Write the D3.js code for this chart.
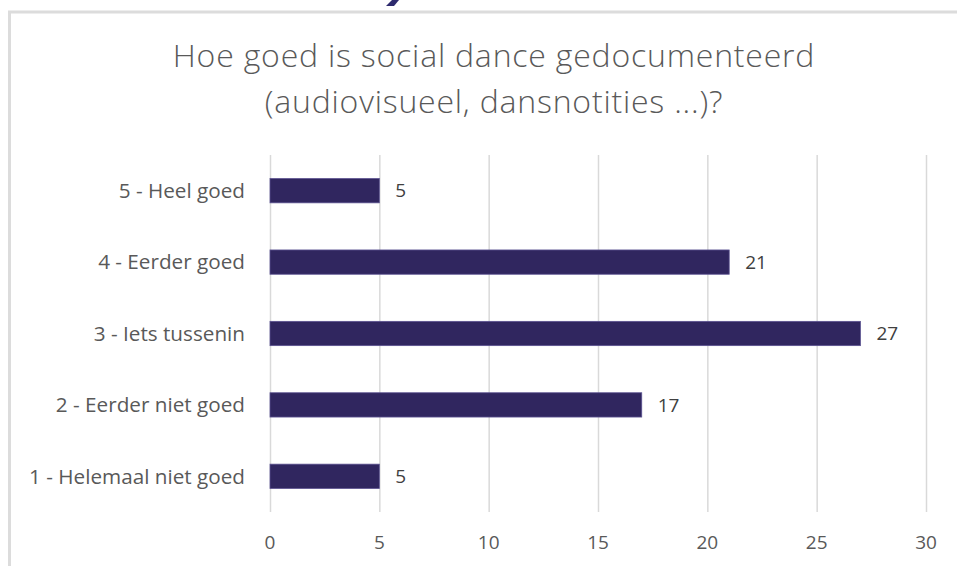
<!DOCTYPE html>
<html>
<head>
<meta charset="utf-8">
<script src="https://cdn.jsdelivr.net/npm/d3@7"></script>
<style>
  html, body { margin: 0; padding: 0; background: #fff; }
  svg { display: block; }
  .title { font-family: "Open Sans", sans-serif; font-weight: 300; fill: #595959; letter-spacing: 0.8px; }
  .cat-label, .tick-label { font-family: "Open Sans", sans-serif; fill: #595959; }
  .value-label { font-family: "Open Sans", sans-serif; fill: #404040; }
</style>
</head>
<body>
<div id="chart"></div>
<script>
// data
const categories = ['5 - Heel goed', '4 - Eerder goed', '3 - Iets tussenin', '2 - Eerder niet goed', '1 - Helemaal niet goed'];
const counts = [5, 21, 27, 17, 5];
const xTicks = [0, 5, 10, 15, 20, 25, 30];
const titleLines = ['Hoe goed is social dance gedocumenteerd', '(audiovisueel, dansnotities ...)?'];

const width = 957, height = 566;
const margin = {top: 155, right: 31, bottom: 54, left: 270};

const svg = d3.select('#chart').append('svg')
    .attr('width', width)
    .attr('height', height);

// bit of the page heading above, cut off by the crop
svg.append('path')
    .attr('d', 'M392,0 L399,0 L394,6 L386,6 Z')
    .attr('fill', '#2e2a6e');

// chart frame, runs off the right and bottom
svg.append('rect')
    .attr('x', 9.5)
    .attr('y', 12)
    .attr('width', width + 20)
    .attr('height', height + 20)
    .attr('fill', 'none')
    .attr('stroke', '#dcdcdc')
    .attr('stroke-width', 3);

svg.append('text')
    .attr('class', 'title')
    .attr('x', 494)
    .attr('y', 67)
    .attr('text-anchor', 'middle')
    .attr('font-size', 32)
    .selectAll('tspan')
    .data(titleLines)
    .join('tspan')
    .attr('x', 494)
    .attr('dy', (d, i) => i === 0 ? 0 : 46)
    .text(d => d);

const innerW = width - margin.left - margin.right;
const innerH = height - margin.top - margin.bottom;

const x = d3.scaleLinear()
    .domain([0, 30])
    .range([margin.left, margin.left + innerW]);

const y = d3.scaleBand()
    .domain(categories)
    .range([margin.top, margin.top + innerH])
    .paddingInner(0.66)
    .paddingOuter(0.33);

// vertical gridlines
svg.append('g')
    .selectAll('line')
    .data(xTicks)
    .join('line')
    .attr('x1', d => x(d) + 0.5)
    .attr('x2', d => x(d) + 0.5)
    .attr('y1', margin.top)
    .attr('y2', margin.top + innerH)
    .attr('stroke', '#d9d9d9')
    .attr('stroke-width', 1.5);

// x tick labels
svg.append('g')
    .selectAll('text')
    .data(xTicks)
    .join('text')
    .attr('class', 'tick-label')
    .attr('x', d => x(d))
    .attr('y', 549)
    .attr('text-anchor', 'middle')
    .attr('font-size', 19)
    .text(d => d);

// category labels
svg.append('g')
    .selectAll('text')
    .data(categories)
    .join('text')
    .attr('class', 'cat-label')
    .attr('x', 245)
    .attr('y', d => y(d) + y.bandwidth() / 2)
    .attr('dy', '0.35em')
    .attr('text-anchor', 'end')
    .attr('font-size', 20.7)
    .text(d => d);

// bars
svg.append('g')
    .selectAll('rect')
    .data(categories)
    .join('rect')
    .attr('x', x(0))
    .attr('y', (d, i) => y(d))
    .attr('width', (d, i) => x(counts[i]) - x(0))
    .attr('height', y.bandwidth())
    .attr('fill', '#30265f')
    .attr('stroke', '#5b5290')
    .attr('stroke-width', 0.8);

// value labels
svg.append('g')
    .selectAll('text')
    .data(categories)
    .join('text')
    .attr('class', 'value-label')
    .attr('x', (d, i) => x(counts[i]) + 16)
    .attr('y', d => y(d) + y.bandwidth() / 2)
    .attr('dy', '0.35em')
    .attr('font-size', 19)
    .text((d, i) => counts[i]);
</script>
</body>
</html>
